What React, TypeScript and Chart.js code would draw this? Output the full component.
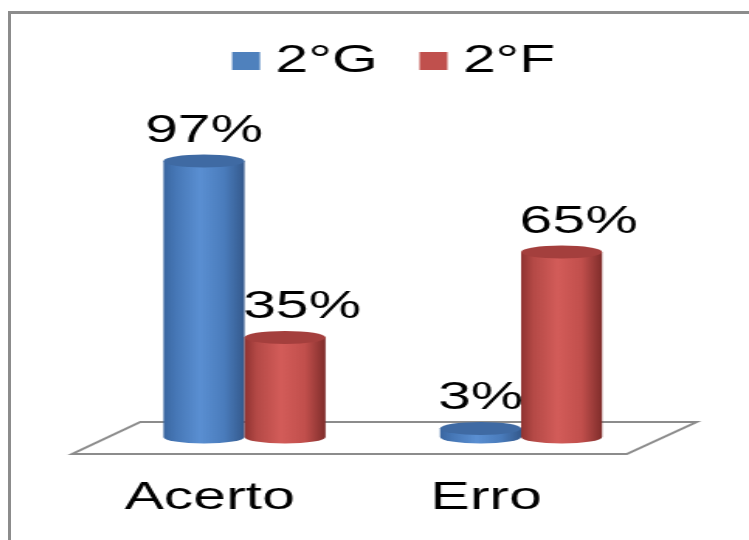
import React, { useEffect, useRef } from 'react';
import { Chart, registerables } from 'chart.js';

Chart.register(...registerables);

// ---- data ----
const categories = ['Acerto', 'Erro'];
const seriesNames = ['2°G', '2°F'];
const valuesG = [97, 3];
const valuesF = [35, 65];

// ---- look ----
const STRETCH = 1.55; // the reference is a horizontally stretched picture
const CSS_W = 738;
const CSS_H = 560;
const W = Math.round(CSS_W / STRETCH);
const FONT = '"Liberation Sans", Arial, sans-serif';
const FS = 38;
const legendColors = ['#4f81bd', '#c0504d'];
const bodyStops = [
  ['#3a66a0', '#4677b6', '#5a8fd2', '#4a7cbc', '#34598c'],
  ['#8f3331', '#b44946', '#d35c59', '#c14f4c', '#7f2d2b'],
];
const topColors = ['#3f6aa3', '#a43f3d'];
const labelShift = [0, 11];

const floorPlugin = {
  id: 'floor3d',
  beforeDatasetsDraw(chart: any) {
    const { ctx, chartArea } = chart;
    const base = chart.scales.y.getPixelForValue(0);
    const L = chartArea.left, R = chartArea.right;
    const fy = base + 17, by = base - 15;
    ctx.save();
    ctx.beginPath();
    ctx.moveTo(L - 22, fy);
    ctx.lineTo(R - 21, fy);
    ctx.lineTo(R + 24, by);
    ctx.lineTo(L + 22, by);
    ctx.closePath();
    ctx.fillStyle = '#ffffff';
    ctx.fill();
    ctx.strokeStyle = '#8c8c8c';
    ctx.lineWidth = 2;
    ctx.stroke();
    ctx.restore();
  },
};

const cylinderPlugin = {
  id: 'cylinders',
  beforeDatasetDraw() {
    return false;
  },
  afterDatasetsDraw(chart: any) {
    const { ctx } = chart;
    const ry = 6.5;
    const nCat = chart.data.labels.length;
    for (let c = 0; c < nCat; c++) {
      chart.data.datasets.forEach((ds: any, di: number) => {
        const meta = chart.getDatasetMeta(di);
        const el = meta.data[c];
        if (!el) return;
        const { x, y, base, width } = el.getProps(['x', 'y', 'base', 'width'], true);
        const r = width / 2;
        ctx.save();
        const g = ctx.createLinearGradient(x - r, 0, x + r, 0);
        const st = bodyStops[di];
        [0, 0.15, 0.45, 0.75, 1].forEach((p, i) => g.addColorStop(p, st[i]));
        ctx.beginPath();
        ctx.moveTo(x - r, y);
        ctx.lineTo(x - r, base);
        ctx.ellipse(x, base, r, ry, 0, Math.PI, 0, true);
        ctx.lineTo(x + r, y);
        ctx.closePath();
        ctx.fillStyle = g;
        ctx.fill();
        ctx.beginPath();
        ctx.ellipse(x, y, r, ry, 0, 0, Math.PI * 2);
        ctx.fillStyle = topColors[di];
        ctx.fill();
        ctx.restore();
      });
    }
    // value labels
    ctx.save();
    ctx.font = `${FS}px ${FONT}`;
    ctx.fillStyle = '#000';
    ctx.textAlign = 'center';
    ctx.textBaseline = 'alphabetic';
    chart.data.datasets.forEach((ds: any, di: number) => {
      const meta = chart.getDatasetMeta(di);
      meta.data.forEach((el: any, i: number) => {
        const { x, y } = el.getProps(['x', 'y'], true);
        ctx.fillText(`${ds.data[i]}%`, x + labelShift[di], y - 19);
      });
    });
    ctx.restore();
  },
};

const legendPlugin = {
  id: 'legendCustom',
  afterDraw(chart: any) {
    const { ctx, chartArea } = chart;
    ctx.save();
    ctx.font = `${FS}px ${FONT}`;
    ctx.textBaseline = 'alphabetic';
    ctx.textAlign = 'left';
    const box = 18, gapText = 10, gapItem = 27;
    const items = chart.data.datasets.map((d: any) => ({ text: d.label, w: ctx.measureText(d.label).width }));
    let total = 0;
    items.forEach((it: any, i: number) => {
      total += box + gapText + it.w + (i < items.length - 1 ? gapItem : 0);
    });
    let x = (chartArea.left + chartArea.right) / 2 - total / 2 + 7;
    items.forEach((it: any, i: number) => {
      ctx.fillStyle = legendColors[i];
      ctx.fillRect(x, 38, box, box);
      x += box + gapText;
      ctx.fillStyle = '#000';
      ctx.fillText(it.text, x, 58);
      x += it.w + gapItem;
    });
    ctx.restore();
  },
};

export default function App() {
  const ref = useRef<HTMLCanvasElement>(null);
  useEffect(() => {
    if (!ref.current) return;
    const chart = new Chart(ref.current, {
      type: 'bar',
      data: {
        labels: categories,
        datasets: [
          { label: seriesNames[0], data: valuesG, backgroundColor: legendColors[0] },
          { label: seriesNames[1], data: valuesF, backgroundColor: legendColors[1] },
        ],
      },
      options: {
        responsive: false,
        devicePixelRatio: 1,
        animation: false,
        categoryPercentage: 0.586,
        barPercentage: 1,
        layout: { padding: { top: 138.5, left: 61.4, right: W - 418.2, bottom: 14 } },
        plugins: { legend: { display: false }, tooltip: { enabled: false } },
        scales: {
          y: { display: false, min: 0, max: 100 },
          x: {
            grid: { display: false, drawTicks: false },
            border: { display: false },
            ticks: {
              color: '#000',
              font: { family: FONT, size: FS },
              padding: 38.7,
              labelOffset: -22.5,
            },
          },
        },
      } as any,
      plugins: [floorPlugin, cylinderPlugin, legendPlugin],
    });
    return () => chart.destroy();
  }, []);
  return (
    <div
      style={{
        position: 'absolute',
        left: 8,
        top: 11,
        width: 741,
        height: 529,
        overflow: 'hidden',
        borderTop: '3px solid #8c8c8c',
        borderLeft: '3px solid #8c8c8c',
        boxSizing: 'border-box',
        background: '#fff',
      }}
    >
      <canvas
        ref={ref}
        width={W}
        height={CSS_H}
        style={{ display: 'block', width: CSS_W + 'px', height: CSS_H + 'px' }}
      />
    </div>
  );
}
